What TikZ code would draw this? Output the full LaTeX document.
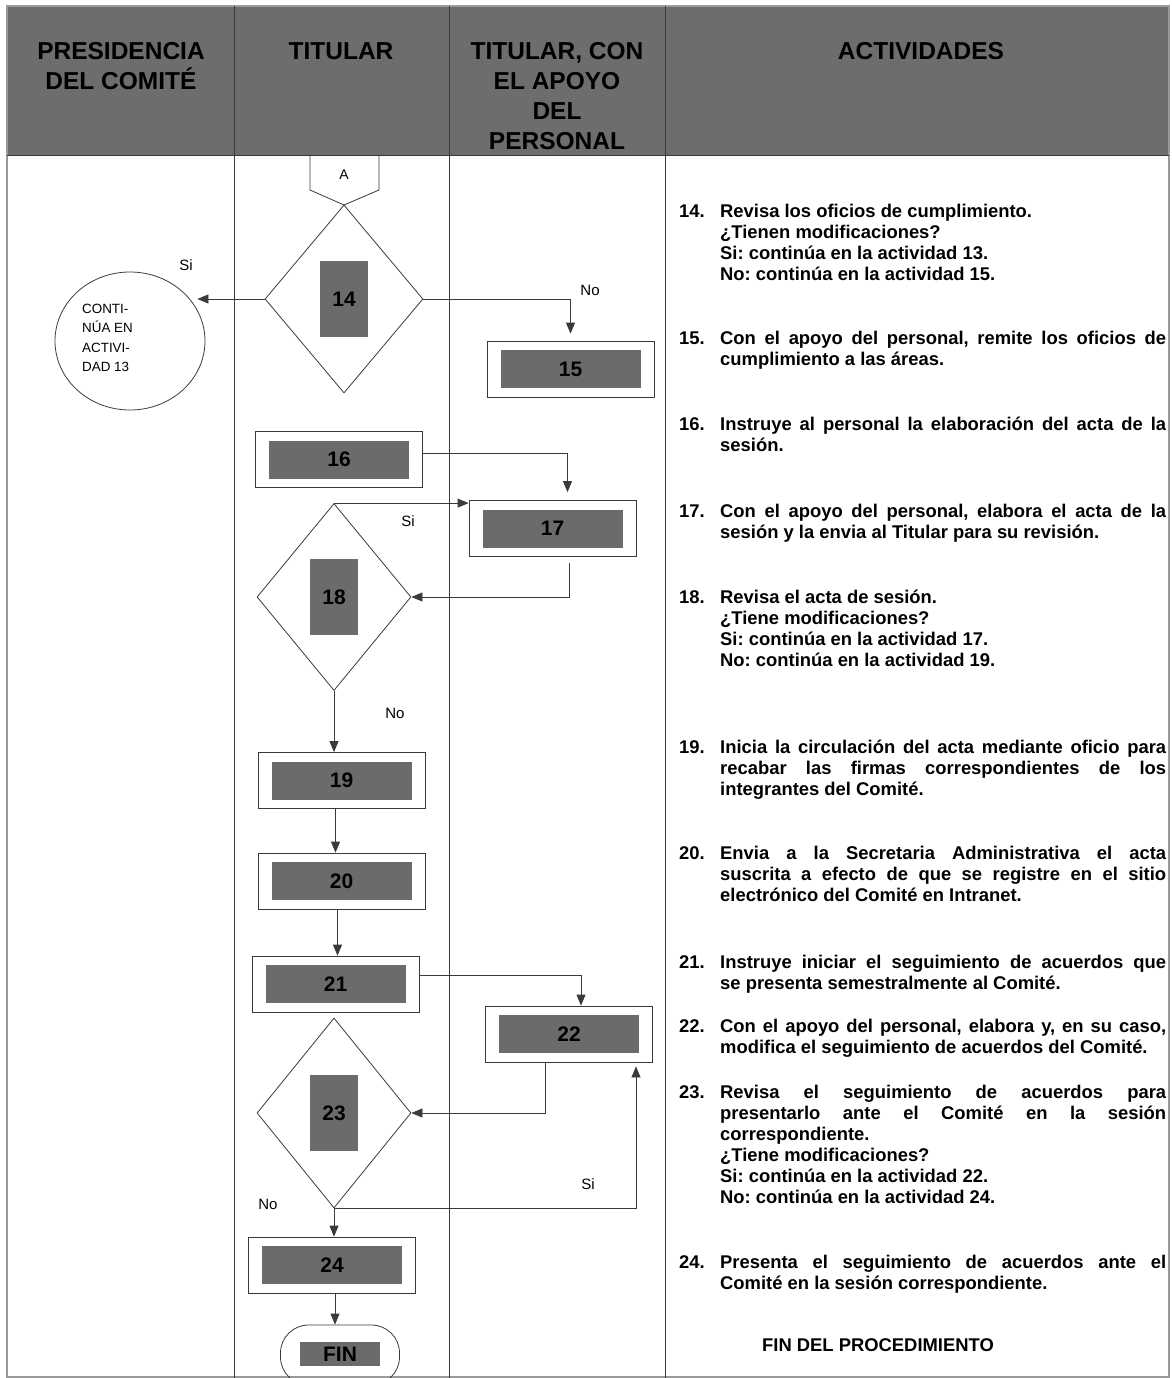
\documentclass[tikz,border=0pt]{standalone}
\usepackage{fontspec}
\setmainfont{Liberation Sans}
\usetikzlibrary{arrows.meta,shapes.geometric}
\definecolor{hdrgray}{HTML}{6D6D6D}
\definecolor{boxgray}{HTML}{6B6B6B}
\definecolor{rulegray}{HTML}{3A3A3A}
\definecolor{edgegray}{HTML}{9A9A9A}
\frenchspacing
% activity box: name, x, y, number
\newcommand{\actbox}[4]{\node[actout] (#1) at (#2,#3) {};\node[actin] (#1in) at (#1) {#4};}
% decision: name, x, y, width, height, number
\newcommand{\decbox}[6]{\node[decis,minimum width=#4pt,minimum height=#5pt] (#1) at (#2,#3) {};\node[decin] (#1in) at (#1) {#6};}

\begin{document}
\begin{tikzpicture}[x=1pt,y=-1pt,
  actout/.style={draw=rulegray,line width=0.8pt,minimum width=167pt,minimum height=56pt,inner sep=0pt},
  actin/.style={fill=boxgray,minimum width=140pt,minimum height=38pt,inner sep=0pt,font=\fontsize{21}{24}\selectfont\bfseries},
  decis/.style={diamond,draw=rulegray,line width=0.8pt,inner sep=0pt},
  decin/.style={fill=boxgray,minimum width=48pt,minimum height=76pt,inner sep=0pt,font=\fontsize{21}{24}\selectfont\bfseries},
  arr/.style={line width=0.8pt,draw=rulegray,-{Triangle[length=11pt,width=9pt]}},
  lbl/.style={font=\fontsize{15}{18}\selectfont,inner sep=0pt},
  hdr/.style={anchor=north,align=center,inner sep=0pt,font=\fontsize{24.5}{30}\selectfont\bfseries},
  itemnum/.style={anchor=north west,inner sep=0pt,font=\fontsize{18.4}{21}\selectfont\bfseries},
  itemtxt/.style={anchor=north west,inner sep=0pt,text width=446pt,align=justify,font=\fontsize{18.4}{21}\selectfont\bfseries}]
  \useasboundingbox (0,0) rectangle (1171,1378);

  % table and header
  \fill[hdrgray] (7,6) rectangle (1169,155);
  \draw[edgegray,line width=2pt] (7,6) rectangle (1169,1377);
  \draw[rulegray,line width=0.8pt] (7,155) -- (1169,155);
  \foreach \x in {234,449,665} \draw[rulegray,line width=0.8pt] (\x,6) -- (\x,1378);
  \node[hdr] (hpres) at (121,42) {PRESIDENCIA\\DEL COMITÉ};
  \node[hdr] (htit) at (341,42) {TITULAR};
  \node[hdr] (hapo) at (557,42) {TITULAR, CON\\EL APOYO\\DEL\\PERSONAL};
  \node[hdr] (hact) at (921,42) {ACTIVIDADES};

  % off-page connector
  \draw[rulegray,line width=0.8pt] (310,155) -- (310,190) -- (344,205) -- (379,190) -- (379,155);
  \node[font=\fontsize{14}{16}\selectfont] (conA) at (344,175) {A};

  % shapes
  \decbox{d14}{344}{299}{158}{188}{14}
  \node[ellipse,draw=rulegray,line width=0.8pt,minimum width=150pt,minimum height=138pt] (c13) at (130,341) {};
  \node[anchor=west,align=left,inner sep=0pt,font=\fontsize{13.4}{19.5}\selectfont] (c13txt) at (82,338) {CONTI-\\NÚA EN\\ACTIVI-\\DAD 13};
  \actbox{b15}{570.5}{369}{15}
  \actbox{b16}{339}{459.5}{16}
  \actbox{b17}{552.5}{528.5}{17}
  \decbox{d18}{334}{597}{154}{187}{18}
  \actbox{b19}{341.5}{780.5}{19}
  \actbox{b20}{341.5}{881}{20}
  \actbox{b21}{335.5}{984}{21}
  \actbox{b22}{569}{1034}{22}
  \decbox{d23}{334}{1113}{154}{190}{23}
  \actbox{b24}{332}{1265}{24}
  \node[draw=rulegray,line width=0.8pt,rounded corners=28pt,minimum width=119pt,minimum height=60pt] (fin) at (340,1355) {};
  \node[fill=boxgray,minimum width=80pt,minimum height=24pt,inner sep=0pt,font=\fontsize{21}{24}\selectfont\bfseries] (finin) at (340,1354) {FIN};

  % connectors
  \draw[arr] (d14.west) -- ([xshift=-8pt]d14.west -| c13.east);
  \node[lbl] (l14si) at (186,265) {Si};
  \draw[arr] (d14.east) -| ([yshift=7pt]b15.north);
  \node[lbl] (l14no) at (590,290) {No};
  \draw[arr] ([yshift=6pt]b16.east) -| ([xshift=15pt,yshift=8pt]b17.north);
  \draw[arr] (d18.north) -- (d18.north -| b17.west);
  \node[lbl] (l18si) at (408,521) {Si};
  \draw[arr] ([xshift=17pt,yshift=-6pt]b17.south) |- (d18.east);
  \draw[arr] (d18.south) -- (d18.south |- b19.north);
  \node[lbl] (l18no) at (395,713) {No};
  \draw[arr] ([xshift=-6pt]b19.south) -- ([xshift=-6pt]b20.north);
  \draw[arr] ([xshift=-4pt]b20.south) -- ([xshift=2pt]b21.north);
  \draw[arr] ([yshift=9pt]b21.east) -| ([xshift=12pt]b22.north);
  \draw[arr] ([xshift=-24pt]b22.south) |- (d23.east);
  \draw[arr] (d23.south) -| ([xshift=67pt,yshift=-4pt]b22.south);
  \node[lbl] (l23si) at (588,1184) {Si};
  \draw[arr] (d23.south) -- (d23.south |- b24.north);
  \node[lbl] (l23no) at (268,1204) {No};
  \draw[arr] ([xshift=3pt]b24.south) -- ([xshift=3pt]b24.south |- fin.north);

  % activities
  \foreach \n/\y/\desc in {
    14/203/{Revisa los oficios de cumplimiento.\\ ¿Tienen modificaciones?\\ Si: continúa en la actividad 13.\\ No: continúa en la actividad 15.},
    15/330/{Con el apoyo del personal, remite los oficios de\linebreak cumplimiento a las áreas.},
    16/416/{Instruye al personal la elaboración del acta de la\linebreak sesión.},
    17/503/{Con el apoyo del personal, elabora el acta de la\linebreak sesión y la envia al Titular para su revisión.},
    18/589/{Revisa el acta de sesión.\\ ¿Tiene modificaciones?\\ Si: continúa en la actividad 17.\\ No: continúa en la actividad 19.},
    19/739/{Inicia la circulación del acta mediante oficio para\linebreak recabar las firmas correspondientes de los\linebreak integrantes del Comité.},
    20/845/{Envia a la Secretaria Administrativa el acta\linebreak suscrita a efecto de que se registre en el sitio\linebreak electrónico del Comité en Intranet.},
    21/954/{Instruye iniciar el seguimiento de acuerdos que\linebreak se presenta semestralmente al Comité.},
    22/1018/{Con el apoyo del personal, elabora y, en su caso,\linebreak modifica el seguimiento de acuerdos del Comité.},
    23/1084/{Revisa el seguimiento de acuerdos para\linebreak presentarlo ante el Comité en la sesión\linebreak correspondiente.\\ ¿Tiene modificaciones?\\ Si: continúa en la actividad 22.\\ No: continúa en la actividad 24.},
    24/1254/{Presenta el seguimiento de acuerdos ante el\linebreak Comité en la sesión correspondiente.}} {
    \node[itemnum] (n\n) at (679,\y) {\strut\n.};
    \node[itemtxt] (t\n) at (720,\y) {\strut\desc};
  }
  \node[font=\fontsize{18.4}{21}\selectfont\bfseries] (fintxt) at (878,1345) {FIN DEL PROCEDIMIENTO};
\end{tikzpicture}
\end{document}
